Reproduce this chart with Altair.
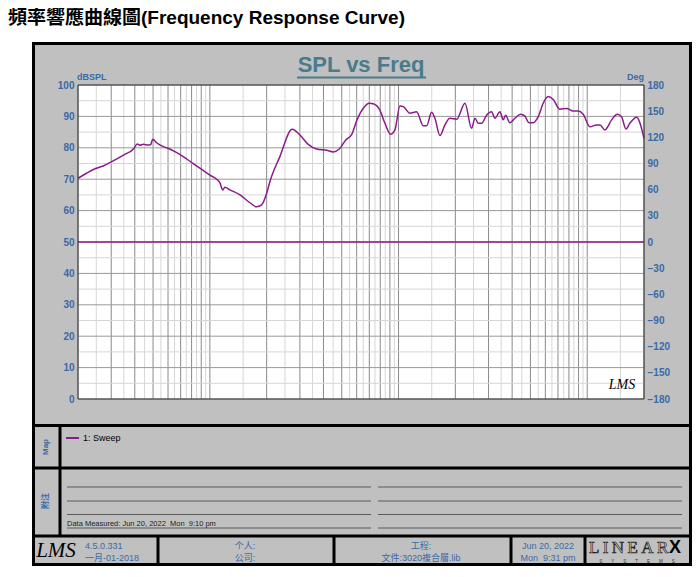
import altair as alt
import pandas as pd

# ---------------- data ----------------
freq_hz = [20, 22.2, 24.8, 27.2, 30.2, 34.8, 39.6, 41.2, 42.6, 44.4, 47.2, 48.5, 49.8, 52.2,
           55.5, 59.0, 65.3, 72.3, 80.1, 90.5, 100, 108.6, 113, 116.9, 120.2, 127.8, 144.4,
           163.1, 177, 188, 200, 208, 235, 273, 300, 332, 368, 416, 451, 485, 525, 565, 605,
           650, 700, 735, 796, 847, 908, 957, 1017, 1059, 1149, 1247, 1352, 1409, 1497, 1559,
           1657, 1762, 1872, 2032, 2249, 2440, 2541, 2645, 2755, 2929, 3113, 3243, 3446, 3588,
           3693, 3890, 4138, 4436, 4675, 4910, 5176, 5499, 5845, 6213, 6605, 7163, 7781, 8434,
           8956, 9521, 10340, 11220, 11680, 12410, 13470, 14420, 15210, 16040, 16830, 18270, 20000]
spl_db = [70.3, 71.9, 73.4, 74.2, 75.6, 77.7, 79.8, 81.2, 80.8, 81.1, 80.9, 81.0, 82.7, 81.6,
          80.6, 80.0, 78.8, 77.2, 75.3, 73.1, 71.3, 70.0, 68.9, 66.6, 67.4, 66.6, 65.0,
          62.5, 61.2, 61.8, 65.5, 69.2, 77.2, 85.9, 84.1, 81.1, 79.6, 79.2, 78.7, 79.6, 82.5, 84.3, 89.2,
          92.6, 94.2, 94.0, 92.0, 87.8, 84.3, 85.7, 93.3, 93.1, 91.0, 91.5, 87.0, 87.0, 91.3, 89.4,
          83.9, 87.3, 89.4, 89.1, 94.2, 86.2, 89.4, 87.8, 87.8, 90.4, 91.5, 89.4, 91.5, 88.9,
          90.4, 88.0, 89.4, 90.7, 90.1, 88.0, 88.0, 89.9, 94.2, 96.3, 95.4, 92.3, 92.5, 91.7,
          91.7, 90.7, 86.7, 87.3, 87.3, 85.7, 88.9, 90.7, 89.9, 86.0, 87.8, 89.7, 83.0]
phase_freq_hz = [20, 20000]
phase_deg = [0, 0]

x_tick_values = [20, 50, 100, 200, 500, 1000, 2000, 5000, 10000, 20000]
x_tick_labels = ["20  Hz", "50", "100", "200", "500", "1K", "2K", "5K", "10K", "20K"]
spl_ticks = [0, 10, 20, 30, 40, 50, 60, 70, 80, 90, 100]
deg_ticks = [-180, -150, -120, -90, -60, -30, 0, 30, 60, 90, 120, 150, 180]

grid_major_hz = [20, 30, 40, 50, 60, 70, 80, 90, 100, 200, 300, 400, 500, 600, 700, 800, 900,
                 1000, 2000, 3000, 4000, 5000, 6000, 7000, 8000, 9000, 10000, 20000]
grid_minor_hz = [25, 35, 45, 55, 65, 75, 85, 95, 150, 250, 350, 450, 550, 650, 750, 850, 950,
                 1500, 2500, 3500, 4500, 5500, 6500, 7500, 8500, 9500, 15000]
grid_major_db = [0, 10, 20, 30, 40, 50, 60, 70, 80, 90, 100]
grid_minor_db = [5, 15, 25, 35, 45, 55, 65, 75, 85, 95]

# ---------------- styles / layout ----------------
W, H = 566, 314          # plot area
X0, Y0 = 78, 85          # plot origin on the page
GRAY = "#c0c0c0"
CURVE = "#8a1c8a"
BLUE = "#3a6aa6"
XLAB = "#b0305e"
NARROW = "'Liberation Sans Narrow', 'Arial Narrow', 'Liberation Sans', 'Noto Sans CJK SC', sans-serif"
SANS = "'Liberation Sans', Arial, 'Noto Sans CJK TC', sans-serif"
SERIF = "'Liberation Serif', 'DejaVu Serif', serif"


def px(x):
    return x - X0


def py(y):
    return y - Y0


def rect(x1, y1, x2, y2, fill, stroke="transparent", sw=0):
    return alt.Chart().mark_rect(fill=fill, stroke=stroke, strokeWidth=sw).encode(
        x=alt.value(px(x1)), x2=alt.value(px(x2)), y=alt.value(py(y1)), y2=alt.value(py(y2)))


def line(x1, y1, x2, y2, color="black", sw=3):
    return alt.Chart().mark_rule(color=color, strokeWidth=sw).encode(
        x=alt.value(px(x1)), x2=alt.value(px(x2)), y=alt.value(py(y1)), y2=alt.value(py(y2)))


def txt(s, x, y, size, color, align="left", weight="normal", font=NARROW, angle=0,
        style="normal", baseline="middle", **kw):
    return alt.Chart().mark_text(text=s, align=align, baseline=baseline, fontSize=size,
                                 color=color, fontWeight=weight, font=font, angle=angle,
                                 fontStyle=style, **kw).encode(
        x=alt.value(px(x)), y=alt.value(py(y)))


label_expr = "''"
for v, lab in reversed(list(zip(x_tick_values, x_tick_labels))):
    label_expr = f"datum.value == {v} ? '{lab}' : ({label_expr})"

x_scale = alt.Scale(type="log", domain=[20, 20000], nice=False)
x_axis = alt.Axis(values=x_tick_values, labelExpr=label_expr, grid=False, domain=False,
                  ticks=False, title=None, labelFont=NARROW, labelFontSize=10,
                  labelFontWeight="bold", labelColor=XLAB, labelPadding=3, labelFlush=False,
                  labelAlign={"condition": {"test": "datum.value <= 20", "value": "left"},
                              "value": "center"},
                  labelOffset={"condition": {"test": "datum.value <= 20", "value": -3},
                               "value": 0},
                  zindex=1)
left_axis = alt.Axis(values=spl_ticks, orient="left", grid=False, domain=False, ticks=False,
                     title=None, labelFont=NARROW, labelFontSize=10, labelFontWeight="bold",
                     labelColor=BLUE, labelPadding=4, zindex=1)
right_axis = alt.Axis(values=deg_ticks, orient="right", grid=False, domain=False, ticks=False,
                      title=None, labelFont=NARROW, labelFontSize=10, labelFontWeight="bold",
                      labelColor=BLUE, labelPadding=3, zindex=1)

spl_df = pd.DataFrame({"freq": freq_hz, "db": spl_db})
phase_df = pd.DataFrame({"freq": phase_freq_hz, "deg": phase_deg})

layers = []
# page title
layers.append(txt("頻率響應曲線圖(Frequency Response Curve)", 8, 18, 19, "black",
                  weight="bold", font=SANS))
# frame
layers.append(rect(33.5, 43.5, 690.5, 564.5, GRAY, "black", 3))
# plot area
layers.append(rect(X0, Y0, X0 + W, Y0 + H, "white"))

# grid
for vals, col in [(grid_minor_hz, "#d6d6d6"), (grid_major_hz, "#8a8a8a")]:
    layers.append(alt.Chart(pd.DataFrame({"freq": vals})).mark_rule(color=col, strokeWidth=1).encode(
        x=alt.X("freq:Q", scale=x_scale, axis=None), y=alt.value(0), y2=alt.value(H)))
for vals, col in [(grid_minor_db, "#d6d6d6"), (grid_major_db, "#999999")]:
    layers.append(alt.Chart(pd.DataFrame({"db": vals})).mark_rule(color=col, strokeWidth=1).encode(
        y=alt.Y("db:Q", scale=alt.Scale(domain=[0, 100]), axis=None),
        x=alt.value(0), x2=alt.value(W)))

# curves
layers.append(alt.Chart(phase_df).mark_line(color=CURVE, strokeWidth=1.3).encode(
    x=alt.X("freq:Q", scale=x_scale, axis=None),
    y=alt.Y("deg:Q", scale=alt.Scale(domain=[-180, 180], nice=False), axis=right_axis)))
layers.append(alt.Chart(spl_df).mark_line(color=CURVE, strokeWidth=1.5, interpolate="monotone").encode(
    x=alt.X("freq:Q", scale=x_scale, axis=x_axis),
    y=alt.Y("db:Q", scale=alt.Scale(domain=[0, 100], nice=False), axis=left_axis)))

# plot border
layers.append(rect(X0, Y0, X0 + W, Y0 + H, "transparent", "#333333", 1))

# plot titles
layers.append(txt("SPL vs Freq", 361, 65, 22, "#4a7b8c", align="center", weight="bold", font=SANS))
layers.append(line(297, 77.5, 426, 77.5, "#4a7b8c", 2))
layers.append(txt("dBSPL", 77, 77, 9, BLUE, weight="bold"))
layers.append(txt("Deg", 644, 77, 9, BLUE, align="right", weight="bold"))
layers.append(txt("LMS", 622, 385, 14, "black", align="center", font=SERIF, style="italic"))

# section separators
layers.append(line(33, 425.5, 691, 425.5))
layers.append(line(33, 468, 691, 468))
layers.append(line(33, 536, 691, 536))
layers.append(line(60, 425, 60, 536))
for xv in [158, 334, 511, 585]:
    layers.append(line(xv, 536, xv, 565))

# map section
layers.append(txt("Map", 46, 447, 8, BLUE, align="center", weight="bold", angle=270))
layers.append(line(66, 438, 79, 438, CURVE, 2))
layers.append(txt("1: Sweep", 83, 438, 9, "black"))

# notes section
layers.append(txt("附注", 46, 501, 8, BLUE, align="center", weight="bold", angle=270))
for yv in [487, 501, 514.5, 528]:
    layers.append(line(67, yv, 371, yv, "#5a5a5a", 1))
    layers.append(line(378, yv, 682, yv, "#5a5a5a", 1))
layers.append(txt("Data Measured: Jun 20, 2022\u00a0 Mon\u00a0 9:10 pm", 67, 524, 7.5, "#222222"))

# footer
layers.append(txt("LMS", 56, 551, 21, "black", align="center", font=SERIF, style="italic"))
layers.append(txt("4.5.0.331", 85, 545.5, 9, BLUE))
layers.append(txt("一月-01-2018", 85, 557.5, 9, BLUE))
layers.append(txt("个人:", 245, 545.5, 9, BLUE, align="center"))
layers.append(txt("公司:", 245, 557.5, 9, BLUE, align="center"))
layers.append(txt("工程:", 421, 545.5, 9, BLUE, align="center"))
layers.append(txt("文件:3020複合層.lib", 421, 557.5, 9, BLUE, align="center"))
layers.append(txt("Jun 20, 2022", 548, 545.5, 9, BLUE, align="center"))
layers.append(txt("Mon\u00a0 9:31 pm", 548, 557.5, 9, BLUE, align="center"))
layers.append(txt("L\u2009I\u2009N\u2009E\u2009A\u2009R", 589, 547.5, 17, "#dcdcdc", font=SERIF,
                  stroke="#222222", strokeWidth=0.7))
layers.append(txt("X", 669, 547.5, 18, "black", weight="bold", font=SANS))
layers.append(txt("S\u2003\u2003Y\u2003\u2003S\u2003\u2003T\u2003\u2003E\u2003\u2003M\u2003\u2003S",
                  637, 561.5, 4.5, "#333333", align="center", font=SANS))

chart = alt.layer(*layers).resolve_scale(y="independent").properties(
    width=W, height=H,
    autosize=alt.AutoSizeParams(type="none"),
    padding={"left": 70, "top": 77, "right": 48, "bottom": 170},
).configure_view(stroke=None)

chart.save("out.html", embed_options={"renderer": "svg", "actions": False})
